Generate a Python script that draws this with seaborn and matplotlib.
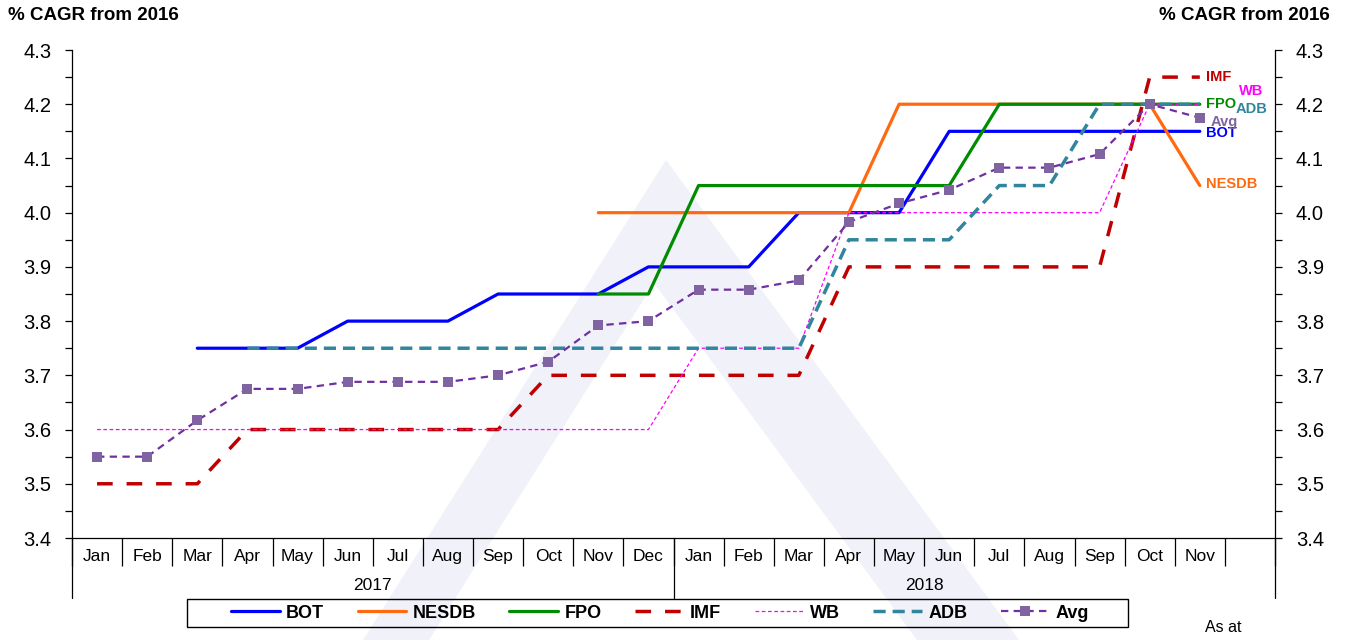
import numpy as np
import pandas as pd
import matplotlib
matplotlib.use("Agg")
import matplotlib.pyplot as plt
import seaborn as sns
from matplotlib.patches import Polygon, Rectangle
from matplotlib.lines import Line2D

# ------------------------------
# data
# ------------------------------
months = ['Jan', 'Feb', 'Mar', 'Apr', 'May', 'Jun', 'Jul', 'Aug', 'Sep', 'Oct', 'Nov', 'Dec',
          'Jan', 'Feb', 'Mar', 'Apr', 'May', 'Jun', 'Jul', 'Aug', 'Sep', 'Oct', 'Nov', '']
years = ['2017', '2018']
nan = np.nan

bot = [nan, nan, 3.75, 3.75, 3.75, 3.80, 3.80, 3.80, 3.85, 3.85, 3.85, 3.90,
       3.90, 3.90, 4.00, 4.00, 4.00, 4.15, 4.15, 4.15, 4.15, 4.15, 4.15, nan]
nesdb = [nan, nan, nan, nan, nan, nan, nan, nan, nan, nan, 4.00, 4.00,
         4.00, 4.00, 4.00, 4.00, 4.20, 4.20, 4.20, 4.20, 4.20, 4.20, 4.05, nan]
fpo = [nan, nan, nan, nan, nan, nan, nan, nan, nan, nan, 3.85, 3.85,
       4.05, 4.05, 4.05, 4.05, 4.05, 4.05, 4.20, 4.20, 4.20, 4.20, 4.20, nan]
imf = [3.50, 3.50, 3.50, 3.60, 3.60, 3.60, 3.60, 3.60, 3.60, 3.70, 3.70, 3.70,
       3.70, 3.70, 3.70, 3.90, 3.90, 3.90, 3.90, 3.90, 3.90, 4.25, 4.25, nan]
wb = [3.60, 3.60, 3.60, 3.60, 3.60, 3.60, 3.60, 3.60, 3.60, 3.60, 3.60, 3.60,
      3.75, 3.75, 3.75, 4.00, 4.00, 4.00, 4.00, 4.00, 4.00, 4.20, 4.20, nan]
adb = [nan, nan, nan, 3.75, 3.75, 3.75, 3.75, 3.75, 3.75, 3.75, 3.75, 3.75,
       3.75, 3.75, 3.75, 3.95, 3.95, 3.95, 4.05, 4.05, 4.20, 4.20, 4.20, nan]
avg = [3.550, 3.550, 3.617, 3.675, 3.675, 3.688, 3.688, 3.688, 3.700, 3.725, 3.792, 3.800,
       3.858, 3.858, 3.875, 3.983, 4.017, 4.042, 4.083, 4.083, 4.108, 4.200, 4.175, nan]

df = pd.DataFrame({'BOT': bot, 'NESDB': nesdb, 'FPO': fpo, 'IMF': imf,
                   'WB': wb, 'ADB': adb, 'Avg': avg})
df['pos'] = np.arange(len(months))

# ------------------------------
# styles
# ------------------------------
styles = {
    'BOT':   dict(color='#0000FF', lw=2.3, ls='-'),
    'NESDB': dict(color='#FF6A10', lw=2.3, ls='-'),
    'FPO':   dict(color='#008C00', lw=2.3, ls='-'),
    'IMF':   dict(color='#C00000', lw=2.5, ls=(0, (4.5, 4))),
    'WB':    dict(color='#FF00FF', lw=0.9, ls=(0, (3, 2))),
    'ADB':   dict(color='#31859C', lw=2.5, ls=(0, (3.5, 2))),
    'Avg':   dict(color='#7030A0', lw=1.6, ls=(0, (3.3, 2.4))),
}
label_pos = {
    'IMF': (22.12, 4.250), 'WB': (22.78, 4.225), 'FPO': (22.12, 4.200),
    'ADB': (22.72, 4.192), 'Avg': (22.22, 4.168), 'BOT': (22.12, 4.147),
    'NESDB': (22.12, 4.053),
}

sns.set_theme(style='white')
plt.rcParams['font.family'] = ['Liberation Sans', 'DejaVu Sans']
plt.rcParams['text.color'] = 'black'
plt.rcParams['xtick.color'] = 'black'
plt.rcParams['ytick.color'] = 'black'

W, H = 1346, 640
fig = plt.figure(figsize=(W / 100, H / 100), dpi=100)
ax = fig.add_axes([72 / W, 1 - 538 / H, (1275 - 72) / W, (538 - 50) / H])
ax.patch.set_alpha(0)

# faint logo watermark behind the plot
wm = [(666, 160), (1019, 640), (917, 640), (654, 283), (429, 640), (363, 640)]
fig.add_artist(Polygon([(x / W, 1 - y / H) for x, y in wm], closed=True,
                       facecolor='#F0F1F9', edgecolor='none', zorder=-5))

handles = []
for name, st in styles.items():
    sub = df[['pos', name]].dropna()
    kw = {}
    if name == 'Avg':
        kw = dict(marker='s', markersize=7, markeredgewidth=0,
                  markerfacecolor='#8064A2')
    sns.lineplot(x=sub['pos'], y=sub[name], ax=ax, color=st['color'],
                 linewidth=st['lw'], linestyle=st['ls'], zorder=3, **kw)
    handles.append(Line2D([], [], color=st['color'], lw=st['lw'],
                          ls=st['ls'], label=name, **kw))
    tx, ty = label_pos[name]
    tcol = '#8064A2' if name == 'Avg' else st['color']
    ax.text(tx, ty, name, color=tcol, fontsize=10.5, fontweight='bold',
            va='center', ha='left', clip_on=False)

# axes
ax.set_xlim(-0.5, len(months) - 0.5)
ax.set_ylim(3.4, 4.3)
ax.set_xlabel('')
ax.set_ylabel('')
ax.set_xticks(np.arange(len(months)))
ax.set_xticklabels(months, fontsize=12.5)
ax.set_xticks(np.arange(-0.5, len(months)), minor=True)
ax.tick_params(axis='x', which='major', bottom=True, length=0, pad=8)
ax.tick_params(axis='x', which='minor', bottom=True, length=20, width=0.9,
               direction='out', color='black')

ax.set_yticks(np.arange(3.4, 4.31, 0.1))
ax.set_yticklabels([f'{v:.1f}' for v in np.arange(3.4, 4.31, 0.1)], fontsize=14.5)
ax.set_yticks(np.arange(3.45, 4.3, 0.1), minor=True)
ax.tick_params(axis='y', which='both', left=True, right=True, labelleft=True,
               labelright=True, length=5, width=0.9, direction='out', color='black')
ax.tick_params(axis='y', which='major', pad=10)
for side in ['left', 'right', 'bottom']:
    ax.spines[side].set_color('black')
    ax.spines[side].set_linewidth(0.9)
ax.spines['top'].set_visible(False)
ax.grid(False)

# year row of the category axis
trans = ax.get_xaxis_transform()
for xb in [-0.5, 11.5, len(months) - 0.5]:
    ax.plot([xb, xb], [0, -0.123], transform=trans, color='black', lw=0.9, clip_on=False)
ax.text(5.5, -0.097, years[0], transform=trans, ha='center', va='center', fontsize=12.5)
ax.text(16.5, -0.097, years[1], transform=trans, ha='center', va='center', fontsize=12.5)

# titles and notes
fig.text(8 / W, 1 - 15 / H, '% CAGR from 2016', fontsize=13.5, fontweight='bold',
         ha='left', va='center')
fig.text(1330 / W, 1 - 15 / H, '% CAGR from 2016', fontsize=13.5, fontweight='bold',
         ha='right', va='center')
fig.text(1205 / W, 1 - 628 / H, 'As at', fontsize=11.5, ha='left', va='center')

# legend: entries without frame, box drawn around them
leg = fig.legend(handles=handles, ncol=7, loc='center', bbox_to_anchor=(660 / W, 1 - 613 / H),
                 frameon=False, fontsize=13, handlelength=2.7,
                 columnspacing=1.85, handletextpad=0.35, borderpad=0.2, borderaxespad=0)
for t in leg.get_texts():
    t.set_fontweight('bold')
    t.set_color('black')
fig.add_artist(Rectangle((187 / W, 1 - 627 / H), (1128 - 187) / W, 28 / H,
                         facecolor='none', edgecolor='black', lw=1.0))

fig.savefig('out.png', dpi=100)
